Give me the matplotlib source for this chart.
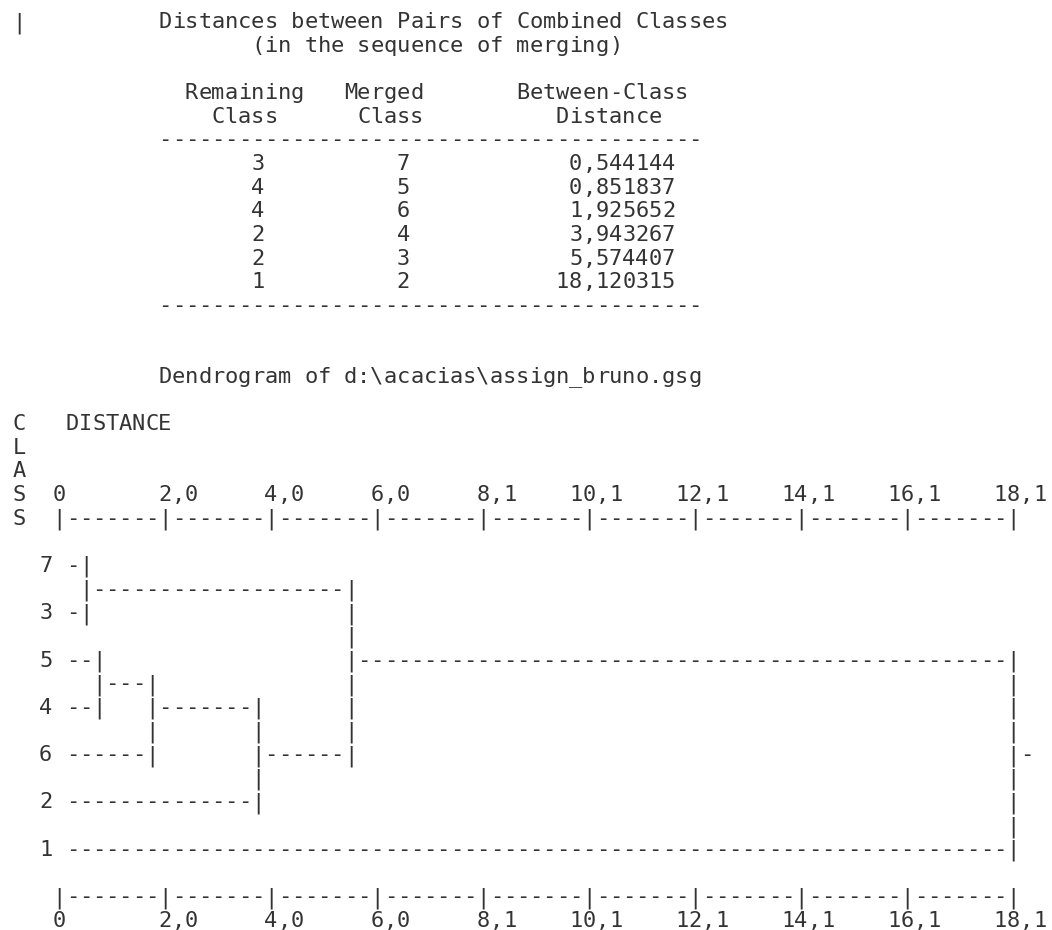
import matplotlib
matplotlib.use('Agg')
import matplotlib.pyplot as plt

# merge table (in the sequence of merging)
remaining = [3, 4, 4, 2, 2, 1]
merged = [7, 5, 6, 4, 3, 2]
distance = [0.544144, 0.851837, 1.925652, 3.943267, 5.574407, 18.120315]

# class order down the dendrogram
leaf_order = [7, 3, 5, 4, 6, 2, 1]

title = "Distances between Pairs of Combined Classes"
subtitle = "(in the sequence of merging)"
head1 = ["Remaining", "Merged", "Between-Class"]
head2 = ["Class", "Class", "Distance"]
dendro_title = "Dendrogram of d:\\acacias\\assign_bruno.gsg"
axis_name = "DISTANCE"
side_label = "CLASS"
n_ticks = 9

# character grid layout
N_LINES = 39
N_COLS = 80
CHAR_W = 13.25
LINE_H = 23.65
COL0 = 19.25      # centre x of column 0
LINE0 = 20.0      # centre y of line 0
BASE_OFF = 8.0    # baseline below line centre
ZERO = 3          # column of distance 0
TICK_W = 8        # characters per tick interval
DEN0 = 23         # first dendrogram line

grid = [[' '] * N_COLS for _ in range(N_LINES)]


def put(line, col, s):
    for k, ch in enumerate(s):
        grid[line][col + k] = ch


def fmt(v):
    return ("%.6f" % v).replace('.', ',')


# --- table ---
put(0, 0, '|')
put(0, 11, title)
put(1, 11 + (len(title) - len(subtitle)) // 2, subtitle)
put(3, 13, head1[0]); put(3, 25, head1[1]); put(3, 38, head1[2])
put(4, 15, head2[0]); put(4, 26, head2[1]); put(4, 41, head2[2])
put(5, 11, '-' * 41)
for i in range(len(remaining)):
    put(6 + i, 18, str(remaining[i]))
    put(6 + i, 29, str(merged[i]))
    s = fmt(distance[i])
    put(6 + i, 50 - len(s), s)
put(6 + len(remaining), 11, '-' * 41)

# --- dendrogram header ---
put(15, 11, dendro_title)
put(17, 4, axis_name)
for k, ch in enumerate(side_label):
    put(17 + k, 0, ch)

dmax = max(distance)
scale = TICK_W * n_ticks


def tick_labels(line):
    for k in range(n_ticks + 1):
        col = ZERO + k * TICK_W
        v = dmax * k / n_ticks
        if k == 0:
            lab = "0"
        else:
            lab = ("%.1f" % v).replace('.', ',')
        ipart = lab.split(',')[0]
        put(line, col - (len(ipart) - 1), lab)


def axis_line(line):
    put(line, ZERO, "|" + ("-" * (TICK_W - 1) + "|") * n_ticks)


tick_labels(20)
axis_line(21)

# --- dendrogram body ---
state = {}
for i, c in enumerate(leaf_order):
    row = 2 * i
    state[c] = (ZERO, row)
    put(DEN0 + row, 2 - (len(str(c)) - 1), str(c))

for r, m, d in zip(remaining, merged, distance):
    col = ZERO + int(d / dmax * scale)
    cr, rr = state[r]
    cm, rm = state[m]
    for cc, rw in [(cr, rr), (cm, rm)]:
        for x in range(cc + 1, col):
            grid[DEN0 + rw][x] = '-'
    for rw in range(min(rr, rm), max(rr, rm) + 1):
        grid[DEN0 + rw][col] = '|'
    state[r] = (col, (rr + rm) // 2)

# root stub
root_col, root_row = state[remaining[-1]]
grid[DEN0 + root_row][root_col + 1] = '-'

axis_line(37)
tick_labels(38)

# --- draw ---
fig = plt.figure(figsize=(10.52, 9.30), dpi=100)
ax = fig.add_axes([0, 0, 1, 1])
ax.set_xlim(0, 1052)
ax.set_ylim(930, 0)
ax.axis('off')

for i in range(N_LINES):
    y = LINE0 + i * LINE_H + BASE_OFF
    for j in range(N_COLS):
        ch = grid[i][j]
        if ch == ' ':
            continue
        x = COL0 + j * CHAR_W
        ax.text(x, y, ch, family='DejaVu Sans Mono', fontsize=15.85,
                color='#333333', ha='center', va='baseline')

fig.savefig('out.png', dpi=100)
